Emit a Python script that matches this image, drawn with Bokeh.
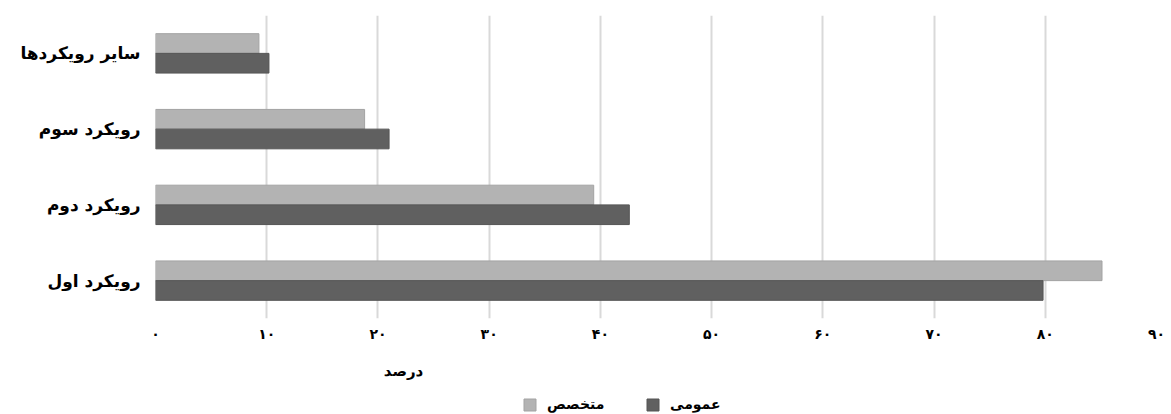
from bokeh.plotting import figure
from bokeh.models import ColumnDataSource, Legend, LegendItem, FactorRange
from bokeh.layouts import column
from bokeh.transform import dodge
from bokeh.core.properties import value
from bokeh.embed import file_html
from bokeh.resources import INLINE

categories = ["رویکرد اول", "رویکرد دوم", "رویکرد سوم", "سایر رویکردها"]
general = [79.8, 42.6, 21.0, 10.2]       # عمومی (dark)
specialist = [85.1, 39.4, 18.8, 9.3]     # متخصص (light)
series_names = ["متخصص", "عمومی"]
tick_values = [0, 10, 20, 30, 40, 50, 60, 70, 80, 90]
tick_labels = ["۰", "۱۰", "۲۰", "۳۰", "۴۰", "۵۰", "۶۰", "۷۰", "۸۰", "۹۰"]
axis_title = "درصد"

FONT = "DejaVu Sans"
LIGHT, LIGHT_EDGE = "#b3b3b3", "#a3a3a3"
DARK, DARK_EDGE = "#606060", "#555555"
W = 1171
BORDERS = dict(min_border_left=155, min_border_right=15)

src = ColumnDataSource(dict(cat=categories, general=general, specialist=specialist))

# ---- main chart ----
p = figure(width=W, height=345, output_backend="svg", toolbar_location=None,
           y_range=FactorRange(*categories, range_padding=0), x_range=(0, 90),
           min_border_top=15, min_border_bottom=27, **BORDERS)
p.outline_line_color = None

p.hbar(y=dodge("cat", 0.13, range=p.y_range), right="specialist", left=0, height=0.26,
       source=src, fill_color=LIGHT, line_color=LIGHT_EDGE, line_width=1)
p.hbar(y=dodge("cat", -0.13, range=p.y_range), right="general", left=0, height=0.26,
       source=src, fill_color=DARK, line_color=DARK_EDGE, line_width=1)

p.xaxis.ticker = tick_values
p.xaxis.major_label_overrides = {v: l for v, l in zip(tick_values, tick_labels)}
p.xaxis.axis_line_color = None
p.xaxis.major_tick_line_color = None
p.xaxis.minor_tick_line_color = None
p.xaxis.major_label_text_font = FONT
p.xaxis.major_label_text_font_style = "bold"
p.xaxis.major_label_text_font_size = "14px"
p.xaxis.major_label_text_color = "black"
p.xaxis.major_label_standoff = 1

p.yaxis.axis_line_color = None
p.yaxis.major_tick_line_color = None
p.yaxis.minor_tick_line_color = None
p.yaxis.major_label_text_font = FONT
p.yaxis.major_label_text_font_style = "bold"
p.yaxis.major_label_text_font_size = "17px"
p.yaxis.major_label_text_color = "black"
p.yaxis.major_label_standoff = 9

p.ygrid.grid_line_color = None
p.xgrid.grid_line_color = "#d9d9d9"
p.xgrid.grid_line_width = 2

# ---- strip below: axis title + legend (same horizontal scale as the chart) ----
H2 = 414 - 345
p2 = figure(width=W, height=H2, output_backend="svg", toolbar_location=None,
            x_range=p.x_range, y_range=(H2, 0), min_border_top=0, min_border_bottom=0,
            **BORDERS)
p2.axis.visible = False
p2.grid.visible = False
p2.outline_line_color = None

p2.text(x=[22.3], y=[25], text=[axis_title], text_align="center", text_baseline="middle",
        text_font=value(FONT), text_font_style="bold", text_font_size="15px", text_color="black")

# swatch renderers for the legend (not drawn; legend shows their style)
sw_spec = p2.hbar(y="specialist", right="specialist", left=0, height=1, source=src,
                  fill_color=LIGHT, line_color=LIGHT_EDGE, visible=False)
sw_gen = p2.hbar(y="general", right="general", left=0, height=1, source=src,
                 fill_color=DARK, line_color=DARK_EDGE, visible=False)

legend = Legend(items=[LegendItem(label=series_names[0], renderers=[sw_spec]),
                       LegendItem(label=series_names[1], renderers=[sw_gen])],
                location=(367, 2), orientation="horizontal",
                label_text_font=FONT, label_text_font_style="bold", label_text_font_size="14px",
                label_text_color="black",
                glyph_width=15, glyph_height=15, padding=0, margin=0, spacing=17,
                label_standoff=10, label_width=81,
                inactive_fill_alpha=0, click_policy="none",
                border_line_color=None, background_fill_alpha=0)
p2.add_layout(legend)

layout = column(p, p2, spacing=0)
open("out.html", "w").write(file_html(layout, INLINE))
